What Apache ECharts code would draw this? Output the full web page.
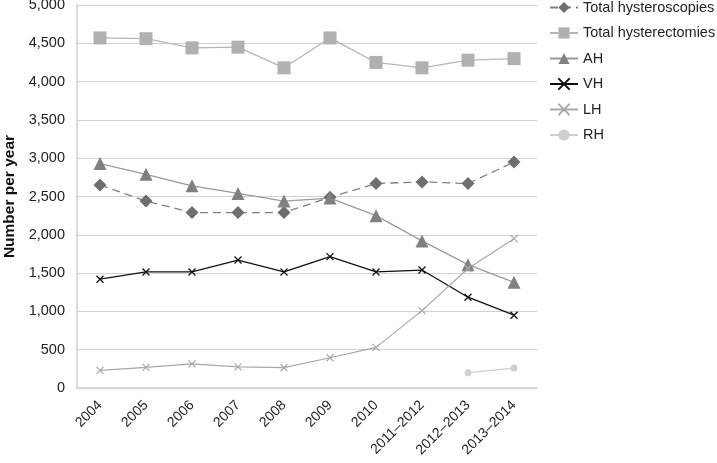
<!DOCTYPE html>
<html><head><meta charset="utf-8">
<script src="https://cdn.jsdelivr.net/npm/echarts@6/dist/echarts.min.js"></script>
<style>html,body{margin:0;padding:0;background:#fff}#c{width:717px;height:463px}</style>
</head><body><div id="c"></div>
<script>
const categories = ['2004','2005','2006','2007','2008','2009','2010','2011\u20132012','2012\u20132013','2013\u20132014'];
const hysteroscopies = [2650,2440,2290,2290,2290,2490,2670,2690,2670,2950];
const hysterectomies = [4570,4560,4440,4450,4180,4570,4250,4180,4280,4300];
const AH = [2930,2790,2640,2540,2440,2480,2250,1920,1610,1380];
const VH = [1420,1515,1515,1670,1515,1715,1515,1540,1185,950];
const LH = [230,270,315,275,265,395,530,1010,1560,1950];
const RH = [null,null,null,null,null,null,null,null,200,260];
const yTicks = [0,500,1000,1500,2000,2500,3000,3500,4000,4500,5000];

const X = 'path://M0,0L10,10M10,0L0,10';
const font = 'Liberation Sans, Arial, sans-serif';
const chart = echarts.init(document.getElementById('c'));
chart.setOption({
  animation:false,
  textStyle:{fontFamily:font},
  grid:{left:77,right:180,top:5,bottom:75,outerBoundsMode:'none',containLabel:false},
  legend:{orient:'vertical',left:549,top:0,padding:0,itemGap:10.5,itemWidth:28,itemHeight:14,
    textStyle:{fontSize:14.5,color:'#222',fontFamily:font}},
  xAxis:{type:'category',data:categories,boundaryGap:true,
    name:'Year',nameLocation:'middle',nameGap:65,
    nameTextStyle:{fontWeight:'bold',fontSize:15.5,color:'#111'},
    axisLine:{lineStyle:{color:'#d0d0d0',width:1.5}},axisTick:{show:false},
    axisLabel:{rotate:45,fontSize:14,color:'#222',margin:15,interval:0}},
  yAxis:{type:'value',min:yTicks[0],max:yTicks[yTicks.length-1],interval:500,
    name:'Number per year',nameLocation:'middle',nameGap:53,
    nameTextStyle:{fontWeight:'bold',fontSize:15.5,color:'#111'},
    axisLine:{show:true,lineStyle:{color:'#d0d0d0',width:1.5}},axisTick:{show:false},
    splitLine:{lineStyle:{color:'#d0d0d0',width:1}},
    axisLabel:{fontSize:14.5,color:'#222',margin:12,formatter:v=>v.toLocaleString('en-US')}},
  series:[
    {name:'Total hysteroscopies',type:'line',data:hysteroscopies,symbol:'diamond',symbolSize:13,
      itemStyle:{color:'#6e6e6e'},lineStyle:{color:'#808080',width:1.3,type:[8,5]}},
    {name:'Total hysterectomies',type:'line',data:hysterectomies,symbol:'rect',symbolSize:13,
      itemStyle:{color:'#b0b0b0'},lineStyle:{color:'#b5b5b5',width:1.3}},
    {name:'AH',type:'line',data:AH,symbol:'triangle',symbolSize:13,
      itemStyle:{color:'#808080'},lineStyle:{color:'#9a9a9a',width:1.3}},
    {name:'VH',type:'line',data:VH,symbol:X,symbolSize:7,
      itemStyle:{color:'#111',borderColor:'#111',borderWidth:1.3},lineStyle:{color:'#111',width:1.3}},
    {name:'LH',type:'line',data:LH,symbol:X,symbolSize:7,
      itemStyle:{color:'#a8a8a8',borderColor:'#a8a8a8',borderWidth:1.2},lineStyle:{color:'#a8a8a8',width:1.2}},
    {name:'RH',type:'line',data:RH,symbol:'circle',symbolSize:7,
      itemStyle:{color:'#cfcfcf'},lineStyle:{color:'#cfcfcf',width:1.2}}
  ]
});
</script></body></html>
